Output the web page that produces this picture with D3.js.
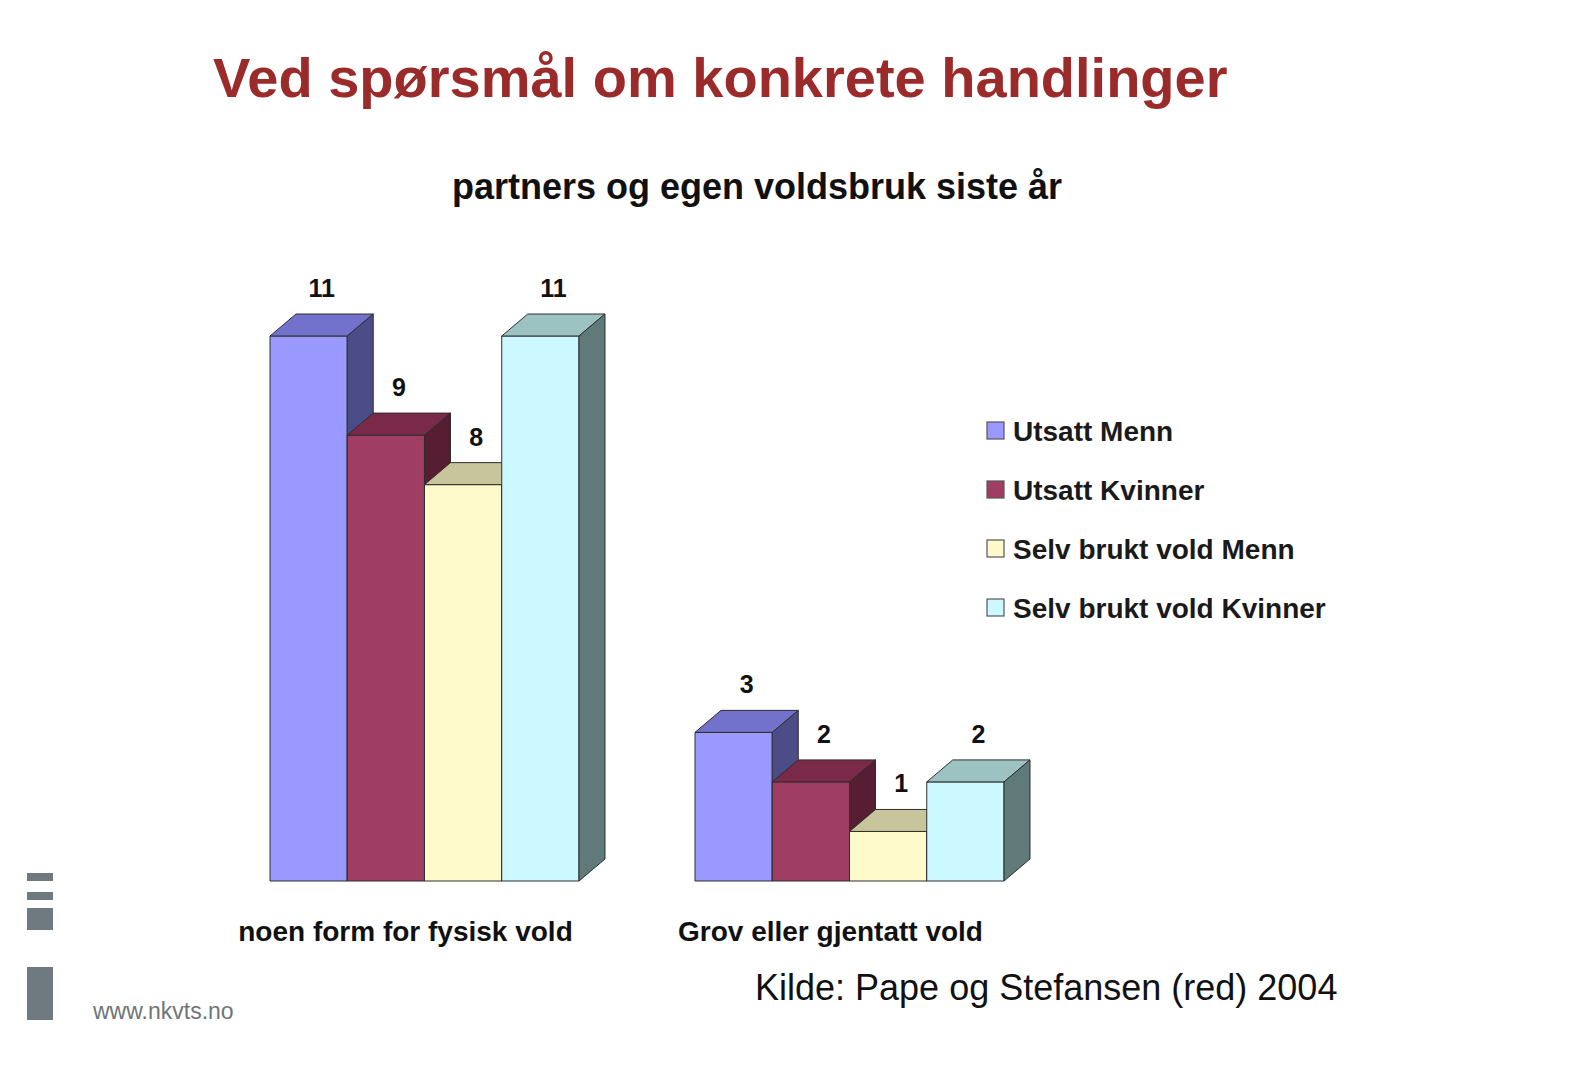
<!DOCTYPE html>
<html>
<head>
<meta charset="utf-8">
<script src="https://cdn.jsdelivr.net/npm/d3@7"></script>
<style>
  html, body { margin: 0; padding: 0; background: #fff; }
  svg { display: block; }
</style>
</head>
<body>
<div id="viz"></div>
<script>
const categories = ["noen form for fysisk vold", "Grov eller gjentatt vold"];
const series = ["Utsatt Menn", "Utsatt Kvinner", "Selv brukt vold Menn", "Selv brukt vold Kvinner"];
const values = [
  [11, 9, 8, 11],
  [3, 2, 1, 2]
];
const yDomain = [0, 11];

const FRONT = ["#9999ff", "#a03d62", "#fffacc", "#ccf8ff"];
const TOP = ["#7272cc", "#7a2a48", "#c8c49c", "#9cc2c2"];
const SIDE = ["#4c4c88", "#561d33", "#8a876a", "#607a7a"];

const W = 1578, H = 1076;
const DX = 26, DY = 22;
const FONT = "'Liberation Sans', Arial, sans-serif";

const svg = d3.select("#viz").append("svg").attr("width", W).attr("height", H);

// title + subtitle
svg.append("text")
  .attr("x", 213).attr("y", 97)
  .attr("font-family", FONT).attr("font-weight", "bold").attr("font-size", 56)
  .attr("fill", "#9b2a2a")
  .text("Ved spørsmål om konkrete handlinger");

svg.append("text")
  .attr("x", 757).attr("y", 199)
  .attr("text-anchor", "middle")
  .attr("font-family", FONT).attr("font-weight", "bold").attr("font-size", 36)
  .attr("fill", "#111")
  .text("partners og egen voldsbruk siste år");

// scales
const x = d3.scaleBand().domain(categories).range([270, 1004]).paddingInner(0.273);
const xs = d3.scaleBand().domain(series).range([0, x.bandwidth()]);
const y = d3.scaleLinear().domain(yDomain).range([881, 336]);

const plot = svg.append("g");

categories.forEach((cat, ci) => {
  series.forEach((s, si) => {
    const v = values[ci][si];
    const x0 = x(cat) + xs(s);
    const x1 = x0 + xs.bandwidth();
    const yt = y(v), yb = y(0);
    const g = plot.append("g")
      .attr("stroke", "#2e2e2e").attr("stroke-width", 1).attr("stroke-linejoin", "round");

    g.append("rect")
      .attr("x", x0).attr("y", yt)
      .attr("width", x1 - x0).attr("height", yb - yt)
      .attr("fill", FRONT[si]);

    g.append("path")
      .attr("d", `M${x0},${yt}L${x0 + DX},${yt - DY}L${x1 + DX},${yt - DY}L${x1},${yt}Z`)
      .attr("fill", TOP[si]);

    g.append("path")
      .attr("d", `M${x1},${yt}L${x1 + DX},${yt - DY}L${x1 + DX},${yb - DY}L${x1},${yb}Z`)
      .attr("fill", SIDE[si]);

    plot.append("text")
      .attr("x", (x0 + x1) / 2 + DX / 2)
      .attr("y", yt - DY - 17)
      .attr("text-anchor", "middle")
      .attr("font-family", FONT).attr("font-weight", "bold").attr("font-size", 25)
      .attr("fill", "#111")
      .text(v);
  });

  svg.append("text")
    .attr("x", x(cat) + x.bandwidth() / 2 - 19)
    .attr("y", 941)
    .attr("text-anchor", "middle")
    .attr("font-family", FONT).attr("font-weight", "bold").attr("font-size", 28)
    .attr("fill", "#111")
    .text(cat);
});

// legend
const legend = svg.append("g").attr("transform", "translate(987,422)");
series.forEach((s, i) => {
  const row = legend.append("g").attr("transform", `translate(0,${i * 59})`);
  row.append("rect")
    .attr("width", 17).attr("height", 17)
    .attr("fill", FRONT[i]).attr("stroke", "#555").attr("stroke-width", 1.2);
  row.append("text")
    .attr("x", 26).attr("y", 19)
    .attr("font-family", FONT).attr("font-weight", "bold").attr("font-size", 28)
    .attr("fill", "#1a1a1a")
    .text(s);
});

// source
svg.append("text")
  .attr("x", 755).attr("y", 1000)
  .attr("font-family", FONT).attr("font-size", 36)
  .attr("fill", "#111")
  .text("Kilde: Pape og Stefansen (red) 2004");

// logo
const logo = svg.append("g").attr("fill", "#6e7a80");
logo.append("rect").attr("x", 27).attr("y", 873).attr("width", 26).attr("height", 8);
logo.append("rect").attr("x", 27).attr("y", 892).attr("width", 26).attr("height", 8);
logo.append("rect").attr("x", 27).attr("y", 908).attr("width", 26).attr("height", 22);
logo.append("rect").attr("x", 27).attr("y", 967).attr("width", 26).attr("height", 53);

svg.append("text")
  .attr("x", 93).attr("y", 1019)
  .attr("font-family", FONT).attr("font-size", 23)
  .attr("fill", "#6e7478")
  .text("www.nkvts.no");
</script>
</body>
</html>
